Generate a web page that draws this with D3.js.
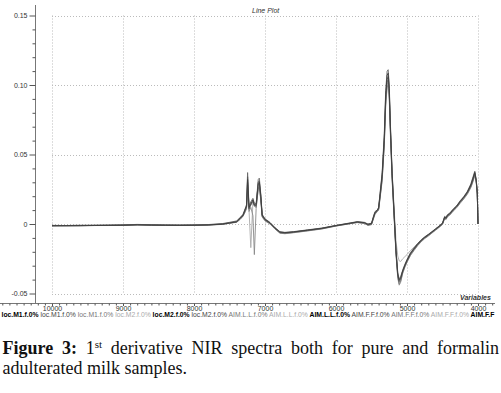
<!DOCTYPE html>
<html>
<head>
<meta charset="utf-8">
<script src="https://cdn.jsdelivr.net/npm/d3@7"></script>
<style>
body { margin: 0; background: #fff; }
svg { display: block; }
.small { font-family: "Liberation Sans", Arial, sans-serif; font-size: 7px; fill: #333; }
</style>
</head>
<body>
<svg id="chart" width="501" height="393"></svg>
<script>
// wavenumbers (cm-1), shared by every spectrum
var wavenumbers = [10000, 9800, 9600, 9400, 9200, 9000, 8800, 8600, 8400, 8200,
	8000, 7800, 7600, 7500, 7400, 7350, 7310, 7280, 7260, 7245,
	7225, 7200, 7170, 7150, 7125, 7095, 7080, 7060, 7040, 7000,
	6930, 6860, 6790, 6720, 6600, 6400, 6200, 6000, 5800, 5700,
	5600, 5550, 5500, 5470, 5450, 5420, 5400, 5380, 5350, 5320,
	5300, 5280, 5265, 5250, 5235, 5210, 5180, 5155, 5130, 5110,
	5090, 5060, 5030, 5000, 4950, 4900, 4850, 4800, 4750, 4700,
	4650, 4600, 4550, 4500, 4470, 4450, 4430, 4400, 4350, 4300,
	4250, 4200, 4150, 4100, 4070, 4045, 4025, 4010, 4000];

// 1st derivative spectra
var spectrumA = [-0.0012,-0.0012,-0.0011,-0.0010,-0.0009,-0.0008,-0.0005,-0.0007,-0.0008,-0.0009,
	-0.0008,-0.0006,0.0000,0.0008,0.0017,0.0040,0.0065,0.0100,0.0125,0.0340,
	0.0110,0.0150,0.0170,0.0140,0.0130,0.0300,0.0310,0.0200,0.0060,0.0030,
	0.0007,-0.0030,-0.0060,-0.0064,-0.0058,-0.0045,-0.0032,-0.0012,0.0005,0.0014,
	0.0008,-0.0006,0.0000,0.0050,0.0080,0.0095,0.0110,0.0200,0.0340,0.0600,
	0.0900,0.1040,0.1060,0.0950,0.0700,0.0350,0.0050,-0.0200,-0.0370,-0.0415,
	-0.0395,-0.0340,-0.0300,-0.0265,-0.0215,-0.0180,-0.0148,-0.0120,-0.0098,-0.0080,
	-0.0060,-0.0040,-0.0020,0.0002,0.0045,0.0040,0.0060,0.0070,0.0100,0.0125,
	0.0160,0.0190,0.0225,0.0275,0.0320,0.0365,0.0310,0.0220,0.0000];
var spectrumB = [-0.0010,-0.0011,-0.0009,-0.0009,-0.0008,-0.0006,-0.0003,-0.0005,-0.0007,-0.0008,
	-0.0007,-0.0004,0.0003,0.0012,0.0022,0.0048,0.0070,0.0110,0.0140,0.0370,
	0.0130,0.0160,0.0185,0.0150,0.0145,0.0320,0.0330,0.0220,0.0070,0.0038,
	0.0012,-0.0025,-0.0055,-0.0060,-0.0055,-0.0042,-0.0029,-0.0010,0.0008,0.0017,
	0.0012,0.0000,0.0006,0.0060,0.0090,0.0100,0.0120,0.0220,0.0370,0.0650,
	0.0960,0.1100,0.1110,0.1000,0.0740,0.0380,0.0070,-0.0180,-0.0350,-0.0395,
	-0.0380,-0.0330,-0.0290,-0.0255,-0.0205,-0.0172,-0.0140,-0.0113,-0.0092,-0.0074,
	-0.0055,-0.0035,-0.0015,0.0008,0.0055,0.0048,0.0068,0.0078,0.0108,0.0132,
	0.0168,0.0198,0.0235,0.0290,0.0340,0.0380,0.0320,0.0230,0.0000];
var spectrumC = [-0.0014,-0.0013,-0.0013,-0.0011,-0.0011,-0.0010,-0.0007,-0.0009,-0.0010,-0.0010,
	-0.0009,-0.0008,-0.0003,0.0005,0.0012,0.0032,0.0055,0.0085,0.0110,0.0280,
	0.0090,0.0120,0.0060,-0.0220,0.0110,0.0260,0.0270,0.0170,0.0050,0.0022,
	0.0000,-0.0036,-0.0066,-0.0070,-0.0063,-0.0050,-0.0036,-0.0015,0.0002,0.0010,
	0.0004,-0.0010,-0.0005,0.0040,0.0070,0.0088,0.0100,0.0180,0.0310,0.0560,
	0.0850,0.0980,0.1000,0.0900,0.0660,0.0320,0.0030,-0.0220,-0.0390,-0.0440,
	-0.0420,-0.0355,-0.0312,-0.0276,-0.0226,-0.0190,-0.0156,-0.0128,-0.0105,-0.0087,
	-0.0066,-0.0046,-0.0026,-0.0004,0.0038,0.0032,0.0052,0.0062,0.0092,0.0117,
	0.0150,0.0180,0.0214,0.0262,0.0305,0.0350,0.0300,0.0210,0.0000];
var spectrumD = [-0.0011,-0.0011,-0.0010,-0.0010,-0.0009,-0.0007,-0.0004,-0.0006,-0.0008,-0.0008,
	-0.0008,-0.0005,0.0001,0.0010,0.0018,0.0038,0.0060,0.0095,0.0120,0.0300,
	0.0100,-0.0170,0.0160,0.0130,0.0125,0.0280,0.0290,0.0190,0.0058,0.0028,
	0.0005,-0.0032,-0.0062,-0.0066,-0.0060,-0.0047,-0.0034,-0.0013,0.0004,0.0012,
	0.0006,-0.0004,0.0002,0.0048,0.0078,0.0092,0.0105,0.0190,0.0320,0.0570,
	0.0860,0.1000,0.1030,0.0930,0.0700,0.0380,0.0100,-0.0120,-0.0230,-0.0265,
	-0.0270,-0.0250,-0.0235,-0.0220,-0.0190,-0.0165,-0.0140,-0.0116,-0.0095,-0.0078,
	-0.0058,-0.0038,-0.0018,0.0004,0.0048,0.0042,0.0062,0.0072,0.0102,0.0128,
	0.0162,0.0192,0.0228,0.0278,0.0325,0.0360,0.0305,0.0215,0.0000];
var spectrumE = [-0.0013,-0.0012,-0.0012,-0.0011,-0.0010,-0.0009,-0.0006,-0.0008,-0.0009,-0.0010,
	-0.0009,-0.0007,-0.0001,0.0007,0.0015,0.0044,0.0060,0.0105,0.0130,0.0320,
	0.0120,0.0140,0.0175,0.0135,0.0140,0.0290,0.0300,0.0210,0.0065,0.0033,
	0.0009,-0.0028,-0.0058,-0.0062,-0.0057,-0.0044,-0.0031,-0.0011,0.0006,0.0015,
	0.0010,-0.0002,0.0004,0.0055,0.0085,0.0098,0.0115,0.0210,0.0355,0.0620,
	0.0930,0.1070,0.1085,0.0975,0.0720,0.0365,0.0060,-0.0190,-0.0360,-0.0405,
	-0.0388,-0.0336,-0.0296,-0.0260,-0.0210,-0.0176,-0.0144,-0.0117,-0.0095,-0.0077,
	-0.0057,-0.0037,-0.0017,0.0005,0.0050,0.0044,0.0064,0.0074,0.0104,0.0129,
	0.0164,0.0194,0.0230,0.0282,0.0330,0.0372,0.0315,0.0225,0.0000];
var spectrumF = [-0.0012,-0.0013,-0.0012,-0.0010,-0.0010,-0.0009,-0.0006,-0.0008,-0.0009,-0.0009,
	-0.0008,-0.0007,-0.0002,0.0006,0.0014,0.0036,0.0058,0.0090,0.0118,0.0240,
	0.0105,0.0135,0.0160,0.0128,0.0120,0.0250,0.0260,0.0185,0.0055,0.0026,
	0.0003,-0.0034,-0.0064,-0.0068,-0.0061,-0.0048,-0.0034,-0.0014,0.0003,0.0012,
	0.0005,-0.0008,-0.0003,0.0045,0.0075,0.0090,0.0105,0.0190,0.0325,0.0580,
	0.0880,0.1020,0.1040,0.0930,0.0680,0.0335,0.0040,-0.0210,-0.0380,-0.0430,
	-0.0410,-0.0348,-0.0306,-0.0270,-0.0220,-0.0185,-0.0152,-0.0124,-0.0101,-0.0083,
	-0.0063,-0.0043,-0.0023,-0.0001,0.0042,0.0036,0.0056,0.0066,0.0096,0.0121,
	0.0155,0.0185,0.0220,0.0268,0.0312,0.0355,0.0305,0.0215,0.0000];

// sample names row (the last one is cut short in the picture)
var sampleNames = ["loc.M1.f.0%", "loc.M1.f.0%", "loc.M1.f.0%", "loc.M2.f.0%", "loc.M2.f.0%",
	"loc.M2.f.0%", "AIM.L.L.f.0%", "AIM.L.L.f.0%", "AIM.L.L.f.0%", "AIM.F.F.f.0%",
	"AIM.F.F.f.0%", "AIM.F.F.f.0%", "AIM.F.F"];

var yTicks = [-0.05, 0, 0.05, 0.10, 0.15],
	yTickLabels = ["-0.05", "0", "0.05", "0.10", "0.15"];
var xTicks = [10000, 9000, 8000, 7000, 6000, 5000, 4000];

//////////////////////////////////////////////////

var shades = ["#000", "#444", "#777", "#aaa"];

var svg = d3.select("#chart");

var x_scale = d3.scaleLinear()
	.domain([10000, 4000])
	.range([52, 478]);

var y_scale = d3.scaleLinear()
	.domain([-0.05, 0.15])
	.range([293.5, 15.5]);

// dotted grid
svg.append("g").selectAll("line")
	.data(xTicks)
	.join("line")
	.attr("x1", d => Math.round(x_scale(d)) + 0.5)
	.attr("x2", d => Math.round(x_scale(d)) + 0.5)
	.attr("y1", y_scale(0.15))
	.attr("y2", y_scale(-0.05))
	.attr("stroke", "#bbb")
	.attr("stroke-dasharray", "1,2");

svg.append("g").selectAll("line")
	.data(yTicks)
	.join("line")
	.attr("x1", x_scale(10000))
	.attr("x2", x_scale(4000))
	.attr("y1", d => Math.round(y_scale(d)) + 0.5)
	.attr("y2", d => Math.round(y_scale(d)) + 0.5)
	.attr("stroke", "#bbb")
	.attr("stroke-dasharray", "1,2");

// spectra, light ones first
var spectra = [
	{values: spectrumD, color: "#aaa"},
	{values: spectrumC, color: "#888"},
	{values: spectrumF, color: "#777"},
	{values: spectrumB, color: "#666"},
	{values: spectrumA, color: "#555"},
	{values: spectrumE, color: "#3c3c3c"}
];

var line = d3.line()
	.x(function(d, i){ return x_scale(wavenumbers[i]) })
	.y(function(d){ return y_scale(d) });

svg.append("g").selectAll("path")
	.data(spectra)
	.join("path")
	.attr("d", d => line(d.values))
	.attr("fill", "none")
	.attr("stroke", d => d.color)
	.attr("stroke-width", 0.9)
	.attr("stroke-linejoin", "round");

// y axis
var yAxisG = svg.append("g").attr("transform", "translate(35.5,0)");
yAxisG.append("line")
	.attr("y1", 5).attr("y2", 303)
	.attr("stroke", "#777");
var minorY = d3.range(-5, 16).map(d => d / 100).filter(d => Math.round(d * 100) % 5 != 0);
yAxisG.append("g")
	.call(d3.axisLeft(y_scale).tickValues(minorY).tickSize(3).tickFormat(""))
	.call(g => g.select(".domain").remove());
yAxisG.append("g")
	.call(d3.axisLeft(y_scale).tickValues(yTicks).tickSize(6).tickPadding(2)
		.tickFormat((d, i) => yTickLabels[i]))
	.call(g => g.select(".domain").remove());
yAxisG.selectAll(".tick line").attr("stroke", "#555");
yAxisG.selectAll("text").attr("class", "small").attr("font-family", null).attr("font-size", null);

// x axis
var xAxisG = svg.append("g").attr("transform", "translate(0,303.5)");
xAxisG.append("line")
	.attr("x1", 0).attr("x2", 495)
	.attr("stroke", "#777");
var minorX = d3.range(3800, 10800, 100).filter(d => d % 1000 != 0);
xAxisG.append("g")
	.call(d3.axisBottom(x_scale).tickValues(minorX).tickSize(2).tickFormat(""))
	.call(g => g.select(".domain").remove());
xAxisG.append("g")
	.call(d3.axisBottom(x_scale).tickValues(xTicks).tickSize(2.5).tickPadding(0).tickFormat(d3.format("d")))
	.call(g => g.select(".domain").remove());
xAxisG.selectAll(".tick line").attr("stroke", "#555");
xAxisG.selectAll("text").attr("class", "small").attr("font-family", null).attr("font-size", null);

// titles
svg.append("text")
	.attr("class", "small")
	.attr("x", 252).attr("y", 13)
	.style("font-style", "italic")
	.text("Line Plot");

svg.append("text")
	.attr("class", "small")
	.attr("x", 460).attr("y", 300)
	.style("font-style", "italic")
	.style("font-weight", "bold")
	.text("Variables");

// sample names row
var names = svg.append("text")
	.attr("class", "small")
	.attr("x", 1.5).attr("y", 317)
	.style("font-size", "6.8px");
sampleNames.forEach(function(n, i) {
	var shade = shades[i % 4];
	names.append("tspan")
		.style("fill", shade)
		.style("font-weight", shade == "#000" ? "bold" : "normal")
		.text((i ? " " : "") + n);
});

// caption
var cap = svg.append("text")
	.attr("x", 2.5).attr("y", 354)
	.style("font-family", '"Liberation Serif", "Times New Roman", serif')
	.style("font-size", "18px")
	.style("fill", "#111");
cap.append("tspan").style("font-weight", "bold").text("Figure 3:");
cap.append("tspan").text(" 1");
cap.append("tspan").attr("dy", -6).style("font-size", "11px").text("st");
cap.append("tspan").attr("dy", 6).text(" derivative NIR spectra both for pure and formalin");
var natural = cap.node().getComputedTextLength();
cap.attr("word-spacing", (496.5 - natural) / 10);

svg.append("text")
	.attr("x", 2.5).attr("y", 374)
	.style("font-family", '"Liberation Serif", "Times New Roman", serif')
	.style("font-size", "18px")
	.style("fill", "#111")
	.text("adulterated milk samples.");
</script>
</body>
</html>
